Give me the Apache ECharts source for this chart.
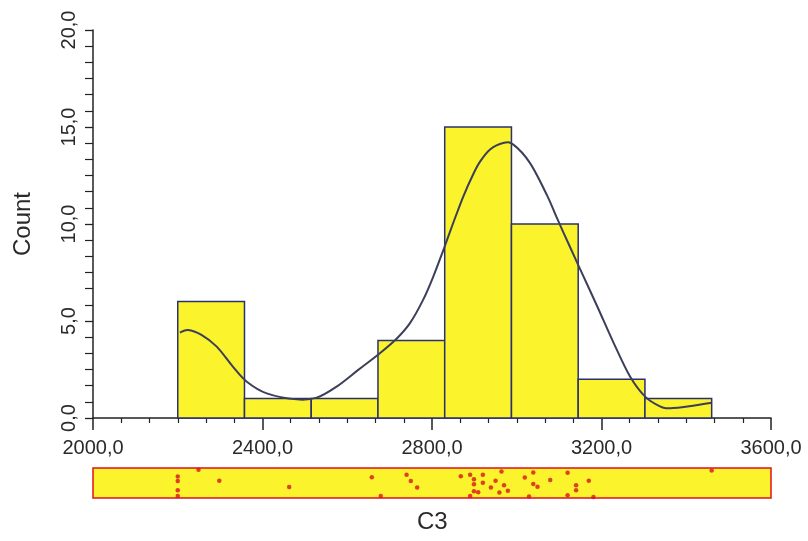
<!DOCTYPE html>
<html><head><meta charset="utf-8">
<script src="https://cdn.jsdelivr.net/npm/echarts@6/dist/echarts.min.js"></script>
<style>html,body{margin:0;padding:0;background:#fff}#c{width:808px;height:541px}</style>
</head><body><div id="c"></div>
<script>
// Histogram bins
var binEdges = [2200, 2357.5, 2515, 2672.5, 2830, 2987.5, 3145, 3302.5, 3460];
var binCounts = [6, 1, 1, 4, 15, 10, 2, 1];
// Density curve (scaled to counts)
var curveX = [2205, 2224, 2255, 2292, 2330, 2363, 2410, 2481, 2528, 2575, 2626, 2677, 2717, 2748, 2779, 2803, 2827, 2850, 2874, 2897, 2913, 2937, 2968, 2992, 3031, 3071, 3094, 3126, 3149, 3189, 3228, 3267, 3303, 3338, 3362, 3416, 3460];
var curveY = [4.4, 4.54, 4.3, 3.68, 2.65, 1.87, 1.27, 0.96, 1.05, 1.62, 2.48, 3.34, 4.1, 4.89, 6.09, 7.29, 8.67, 10.05, 11.43, 12.55, 13.2, 13.84, 14.18, 14.09, 13.15, 11.5, 10.35, 8.8, 7.7, 5.8, 3.9, 2.15, 1.10, 0.6, 0.5, 0.63, 0.79];
// Raw observations (rug / strip plot) and their vertical jitter
var rugValues = [2200, 2200, 2200, 2200, 2249, 2298, 2463, 2658, 2679, 2740, 2750, 2765, 2868, 2890, 2899, 2920, 2964, 2950, 2920, 2899, 2899, 2909, 2890, 2939, 2970, 2979, 2959, 3039, 3019, 3039, 3049, 3029, 3079, 3120, 3140, 3140, 3170, 3120, 3181, 3460];
var rugJitter = [0.714, 0.568, 0.262, 0.068, 0.942, 0.578, 0.364, 0.694, 0.068, 0.772, 0.568, 0.354, 0.728, 0.772, 0.626, 0.772, 0.884, 0.578, 0.510, 0.456, 0.228, 0.194, 0.068, 0.354, 0.422, 0.238, 0.184, 0.850, 0.680, 0.466, 0.374, 0.048, 0.602, 0.840, 0.422, 0.262, 0.578, 0.092, 0.034, 0.918];
var xTickMin = 2000, xTickMax = 3600, xTickStep = 400;
var yTickMin = 0, yTickMax = 20, yTickStep = 5;

var barData = binCounts.map(function (c, i) { return [binEdges[i], binEdges[i + 1], c]; });
var curveData = curveX.map(function (x, i) { return [x, curveY[i]]; });
var rugData = rugValues.map(function (v, i) { return [v, rugJitter[i]]; });
function fmt(v) { return v.toFixed(1).replace('.', ','); }

var FONT = 'Liberation Sans, Arial, sans-serif';
var YELLOW = '#fbf32c';
var chart = echarts.init(document.getElementById('c'), null, { renderer: 'canvas' });

function renderCurve(params, api) {
  if (params.dataIndex !== 0) return null;
  var pts = curveData.map(function (d) { return api.coord(d); });
  var n = pts.length;
  var d = 'M' + pts[0][0] + ' ' + pts[0][1];
  for (var i = 0; i < n - 1; i++) {
    var p0 = pts[Math.max(i - 1, 0)], p1 = pts[i], p2 = pts[i + 1], p3 = pts[Math.min(i + 2, n - 1)];
    var c1x = p1[0] + (p2[0] - p0[0]) / 6, c1y = p1[1] + (p2[1] - p0[1]) / 6;
    var c2x = p2[0] - (p3[0] - p1[0]) / 6, c2y = p2[1] - (p3[1] - p1[1]) / 6;
    d += ' C' + c1x + ' ' + c1y + ' ' + c2x + ' ' + c2y + ' ' + p2[0] + ' ' + p2[1];
  }
  return { type: 'path', shape: { pathData: d }, style: { fill: 'none', stroke: '#3b3f5a', lineWidth: 2 } };
}

chart.setOption({
  animation: false,
  backgroundColor: '#ffffff',
  grid: [
    { left: 93, right: 37, top: 30, bottom: 123 },
    { left: 93, right: 37, top: 468, height: 30, show: true, backgroundColor: YELLOW, borderColor: '#e0121e', borderWidth: 1.5 }
  ],
  xAxis: [
    {
      type: 'value', gridIndex: 0, min: xTickMin, max: xTickMax, interval: xTickStep,
      axisLine: { show: true, onZero: false, lineStyle: { color: '#222', width: 1.5 } },
      axisTick: { show: true, length: 12, lineStyle: { color: '#222', width: 1.5 } },
      minorTick: { show: true, splitNumber: 6, length: 5, lineStyle: { color: '#222', width: 1.2 } },
      splitLine: { show: false },
      axisLabel: { formatter: fmt, fontSize: 20, fontFamily: FONT, color: '#2a2a2a', margin: 20 }
    },
    { type: 'value', gridIndex: 1, min: xTickMin, max: xTickMax, show: false }
  ],
  yAxis: [
    {
      type: 'value', gridIndex: 0, min: yTickMin, max: yTickMax, interval: yTickStep,
      name: 'Count', nameLocation: 'middle', nameGap: 58, nameRotate: 90,
      nameTextStyle: { fontSize: 24, fontFamily: FONT, color: '#2a2a2a' },
      axisLine: { show: true, lineStyle: { color: '#222', width: 1.5 } },
      axisTick: { show: true, length: 8, lineStyle: { color: '#222', width: 1.3 } },
      minorTick: { show: true, splitNumber: 6, length: 8, lineStyle: { color: '#222', width: 1.2 } },
      splitLine: { show: false },
      axisLabel: { formatter: fmt, rotate: 90, fontSize: 20, fontFamily: FONT, color: '#2a2a2a', margin: 14 }
    },
    { type: 'value', gridIndex: 1, min: 0, max: 1, show: false }
  ],
  graphic: [
    { type: 'text', left: 417, top: 510, style: { text: 'C3', fontSize: 24, fontFamily: FONT, fill: '#2a2a2a' } }
  ],
  series: [
    {
      type: 'custom', xAxisIndex: 0, yAxisIndex: 0, data: barData,
      encode: { x: [0, 1], y: 2 },
      renderItem: function (params, api) {
        var p0 = api.coord([api.value(0), api.value(2)]);
        var p1 = api.coord([api.value(1), 0]);
        return {
          type: 'rect',
          shape: { x: p0[0], y: p0[1], width: p1[0] - p0[0], height: p1[1] - p0[1] },
          style: { fill: YELLOW, stroke: '#2b3070', lineWidth: 1.5 }
        };
      },
      z: 2
    },
    {
      type: 'custom', xAxisIndex: 0, yAxisIndex: 0, data: curveData,
      encode: { x: 0, y: 1 }, renderItem: renderCurve, z: 3
    },
    {
      type: 'scatter', xAxisIndex: 1, yAxisIndex: 1, data: rugData,
      symbol: 'circle', symbolSize: 4.5, itemStyle: { color: '#d8131d' }, z: 3
    }
  ]
});
</script>
</body></html>
